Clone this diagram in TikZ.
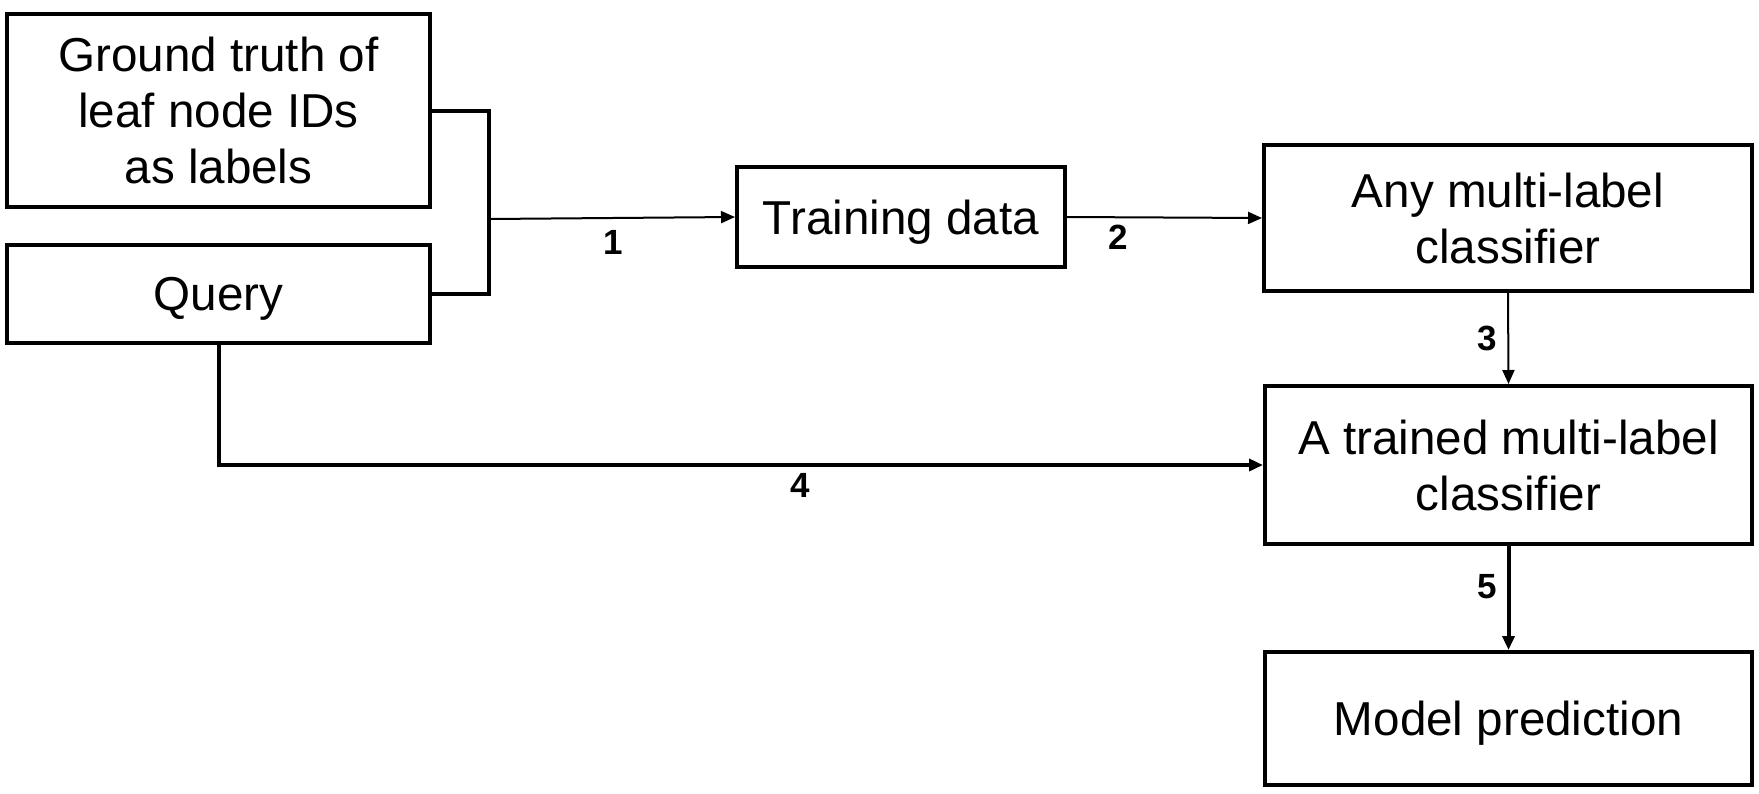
\documentclass[tikz,border=0pt]{standalone}
\usepackage{fontspec}
\setmainfont{Liberation Sans}
\usetikzlibrary{arrows.meta}
\begin{document}
\begin{tikzpicture}[x=0.5pt,y=-0.5pt,
  box/.style={draw, line width=2pt, rectangle, inner sep=0pt, align=center,
    font=\fontsize{23.8}{28}\selectfont},
  oneline/.style={text depth=0pt},
  thin/.style={line width=1pt, -{Triangle[length=7pt,width=6pt]}},
  thick/.style={line width=2pt},
  thickarr/.style={line width=2pt, -{Triangle[length=7pt,width=6pt]}},
  num/.style={font=\fontsize{17.5}{20}\selectfont\bfseries, inner sep=0pt}]
\useasboundingbox (0,0) rectangle (1759,793);
\node[box, minimum width=211.5pt, minimum height=96.5pt] (gt) at (218.5,110.5) {Ground truth of\\leaf node IDs\\as labels};
\node[box, oneline, minimum width=211.5pt, minimum height=49pt] (query) at (218.5,294) {Query};
\node[box, oneline, minimum width=164pt, minimum height=50pt] (train) at (901,217) {Training data};
\node[box, minimum width=244pt, minimum height=73pt] (any) at (1508,218) {Any multi-label\\classifier};
\node[box, minimum width=243.5pt, minimum height=79pt] (trained) at (1508.5,465) {A trained multi-label\\classifier};
\node[box, oneline, minimum width=243.5pt, minimum height=66.5pt] (model) at (1508.5,718.5) {Model prediction};
\coordinate (j) at (489,219);
\draw[thick] (gt.east) -- (489,110.5) -- (489,294) -- (query.east);
\draw[thin] (j) -- (train.west);
\draw[thin] (train.east) -- (any.west);
\draw[thin] (any.south) -- (trained.north);
\draw[thickarr] (query.south) |- (trained.west);
\draw[thickarr] (trained.south) -- (model.north);
\node[num] (n1) at (613,242) {1};
\node[num] (n2) at (1118,237) {2};
\node[num] (n3) at (1487,338) {3};
\node[num] (n4) at (800,485) {4};
\node[num] (n5) at (1487,587) {5};
\end{tikzpicture}
\end{document}
